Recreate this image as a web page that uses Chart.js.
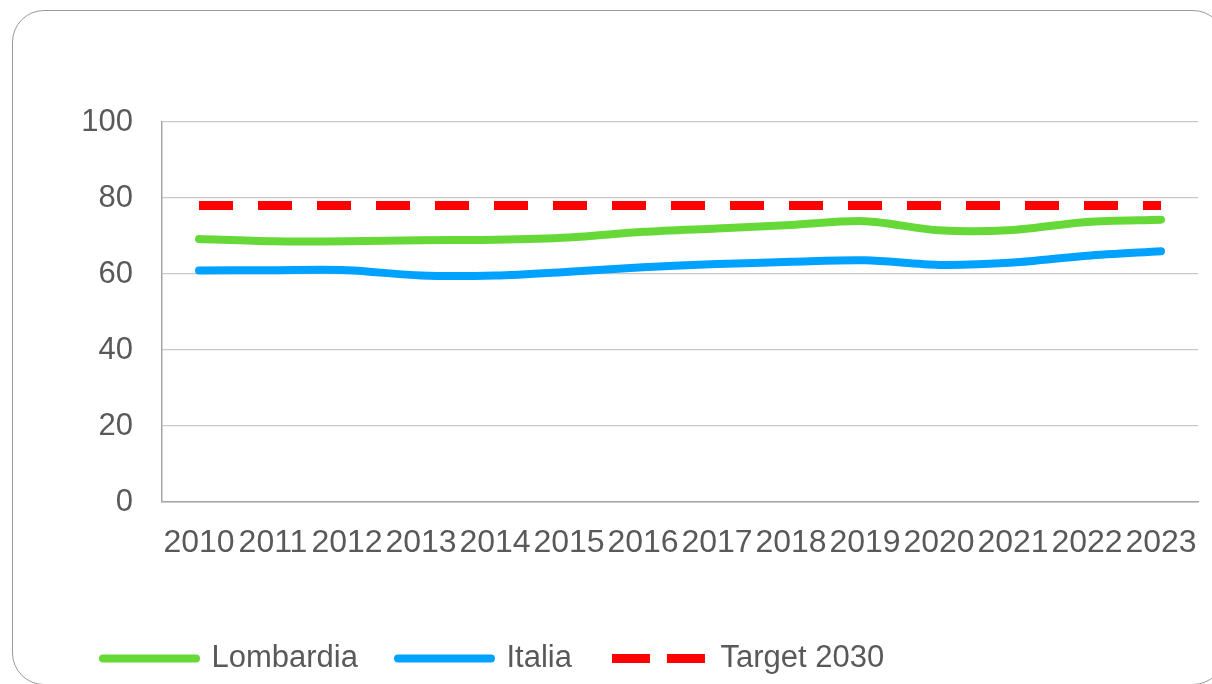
<!DOCTYPE html>
<html>
<head>
<meta charset="utf-8">
<script src="https://cdn.jsdelivr.net/npm/chart.js@4.4.1/dist/chart.umd.min.js"></script>
<style>
  html, body { margin: 0; padding: 0; background: #fff; overflow: hidden; }
  .frame {
    position: absolute; left: 12px; top: 10px; width: 1213px; height: 675px;
    border: 1.5px solid #9a9a9a; border-radius: 32px; box-sizing: border-box;
  }
  .chart-box { position: absolute; left: 0; top: 0; width: 1212px; height: 684px; }
</style>
</head>
<body>
<div class="frame"></div>
<div class="chart-box"><canvas id="myChart" width="1212" height="684"></canvas></div>
<script>
// anni e serie (tasso di occupazione)
const years = ['2010', '2011', '2012', '2013', '2014', '2015', '2016', '2017', '2018', '2019', '2020', '2021', '2022', '2023'];
const lombardia = [69.2, 68.6, 68.6, 68.9, 69.0, 69.6, 71.1, 72.0, 72.9, 73.9, 71.5, 71.6, 73.7, 74.3];
const italia = [60.9, 61.0, 61.0, 59.6, 59.6, 60.6, 61.8, 62.6, 63.2, 63.6, 62.4, 63.0, 64.8, 66.0];
const target2030 = [78, 78, 78, 78, 78, 78, 78, 78, 78, 78, 78, 78, 78, 78];
const yTicks = [0, 20, 40, 60, 80, 100];

const textColour = '#595959';
const fontFamily = '"Liberation Sans", Arial, sans-serif';

const ctx = document.getElementById('myChart').getContext('2d');

const data = {
    labels: years,
    datasets: [
        {
            label: 'Lombardia',
            data: lombardia,
            borderColor: '#66d938',
            backgroundColor: '#66d938',
            borderWidth: 8,
            borderCapStyle: 'round',
            borderJoinStyle: 'round',
            pointRadius: 0,
            tension: 0.3,
        },
        {
            label: 'Italia',
            data: italia,
            borderColor: '#00a2ff',
            backgroundColor: '#00a2ff',
            borderWidth: 8,
            borderCapStyle: 'round',
            borderJoinStyle: 'round',
            pointRadius: 0,
            tension: 0.3,
        },
        {
            label: 'Target 2030',
            data: target2030,
            borderColor: '#ff0000',
            backgroundColor: '#ff0000',
            borderWidth: 9,
            borderDash: [34, 25],
            borderCapStyle: 'butt',
            pointRadius: 0,
            tension: 0,
        },
    ]
};

const myChart = new Chart(ctx, {
    type: 'line',
    data: data,
    options: {
        responsive: false,
        animation: false,
        devicePixelRatio: 1,
        layout: {
            padding: { top: 122, left: 63, right: 14, bottom: 0 },
        },
        plugins: {
            tooltip: { enabled: false },
            legend: {
                position: 'bottom',
                align: 'start',
                labels: {
                    usePointStyle: true,
                    pointStyle: 'line',
                    pointStyleWidth: 93,
                    padding: 40,
                    color: textColour,
                    font: { family: fontFamily, size: 31 },
                    generateLabels: (chart) => {
                        const items = Chart.defaults.plugins.legend.labels.generateLabels(chart);
                        items.forEach(item => {
                            item.pointStyle = 'line';
                            if (item.text === 'Target 2030') {
                                item.lineDash = [38, 17];
                                item.lineCap = 'butt';
                            } else {
                                item.lineCap = 'round';
                            }
                        });
                        return items;
                    },
                },
            },
        },
        scales: {
            x: {
                offset: true,
                afterFit: (scale) => { scale.height = 101; },
                // tick marks invisibili: servono solo a spostare le etichette verso il basso
                grid: { display: true, drawOnChartArea: false, drawTicks: true, tickLength: 22, color: 'rgba(0,0,0,0)' },
                border: { display: true, color: '#a6a6a6', width: 1.5 },
                ticks: {
                    autoSkip: false,
                    maxRotation: 0,
                    minRotation: 0,
                    padding: 0,
                    color: textColour,
                    font: { family: fontFamily, size: 32 },
                },
            },
            y: {
                min: 0,
                max: 100,
                afterFit: (scale) => { scale.width = 99; },
                afterBuildTicks: (scale) => { scale.ticks = yTicks.map(v => ({ value: v })); },
                grid: { color: '#c8c8c8', lineWidth: 1.3, drawTicks: false },
                border: { display: true, color: '#a6a6a6', width: 1.5 },
                ticks: {
                    padding: 29,
                    color: textColour,
                    font: { family: fontFamily, size: 31 },
                },
            },
        },
    },
});
</script>
</body>
</html>
